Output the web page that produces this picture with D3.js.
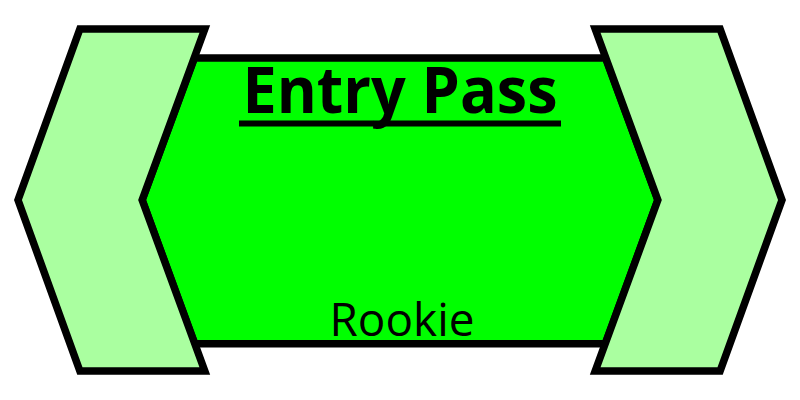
<!DOCTYPE html>
<html lang="en">
<head>
    <meta charset="UTF-8">
    <title>Entry Pass</title>
    <script src="https://d3js.org/d3.v7.min.js"></script>
    <style>
        html, body { margin: 0; padding: 0; background: #fff; }
        svg { display: block; }
    </style>
</head>
<body>
    <div id="badge"></div>

    <script>
        // Badge content
        const titles = ['Entry Pass'];
        const levels = ['Rookie'];

        const width = 800;
        const height = 400;

        // Badge outline in unit space (x: -1..1 left to right, y: 0..1 top to bottom)
        const x = d3.scaleLinear().domain([-1, 1]).range([18, 782]);
        const y = d3.scaleLinear().domain([0, 1]).range([29, 371]);

        const svg = d3.select('#badge')
            .append('svg')
            .attr('width', width)
            .attr('height', height);

        const line = d3.line()
            .x(d => x(d[0]))
            .y(d => y(d[1]));

        // unit coordinates of the shapes
        const leftWing = [[-0.838, 0], [-0.511, 0], [-0.675, 0.5], [-0.511, 1], [-0.838, 1], [-1, 0.5]];
        const rightWing = leftWing.map(p => [-p[0], p[1]]);
        // main body, its slanted ends sit under the wings
        const bodyPts = [[-0.538, 0.085], [0.538, 0.085], [0.675, 0.5], [0.538, 0.92], [-0.538, 0.92], [-0.675, 0.5]];

        svg.append('path')
            .attr('d', line(bodyPts) + 'Z')
            .attr('fill', '#00ff00')
            .attr('stroke', '#000')
            .attr('stroke-width', 7.5)
            .attr('stroke-linejoin', 'miter');

        [leftWing, rightWing].forEach(w => {
            svg.append('path')
                .attr('d', line(w) + 'Z')
                .attr('fill', '#aaffa0')
                .attr('stroke', '#000')
                .attr('stroke-width', 7.5)
                .attr('stroke-linejoin', 'miter');
        });

        // title
        svg.append('text')
            .attr('x', x(0))
            .attr('y', 113)
            .attr('text-anchor', 'middle')
            .attr('font-family', '"Open Sans", sans-serif')
            .attr('font-weight', 'bold')
            .attr('font-size', 64)
            .attr('textLength', 315)
            .attr('lengthAdjust', 'spacingAndGlyphs')
            .text(titles[0]);

        svg.append('rect')
            .attr('x', x(0) - 161)
            .attr('y', 120.5)
            .attr('width', 322)
            .attr('height', 6)
            .attr('fill', '#000');

        svg.append('text')
            .attr('x', x(0) + 2)
            .attr('y', 336)
            .attr('text-anchor', 'middle')
            .attr('font-family', '"Open Sans", sans-serif')
            .attr('font-size', 46)
            .attr('textLength', 145)
            .attr('lengthAdjust', 'spacingAndGlyphs')
            .text(levels[0]);
    </script>
</body>
</html>
